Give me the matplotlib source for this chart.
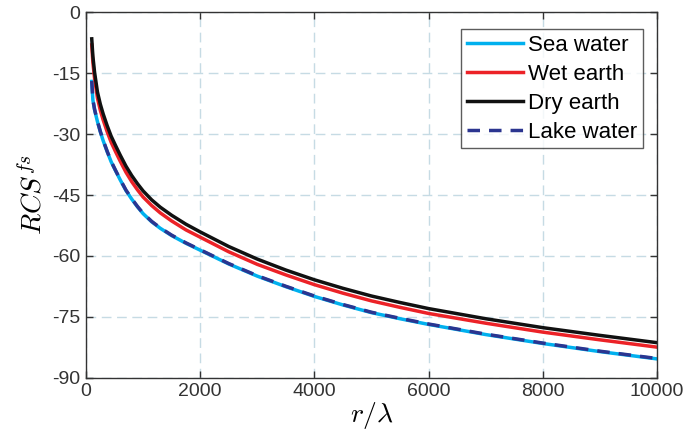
import matplotlib
matplotlib.use('Agg')
import matplotlib.pyplot as plt

plt.rcParams['font.family'] = ['Liberation Sans', 'DejaVu Sans']
plt.rcParams['mathtext.fontset'] = 'cm'
plt.rcParams['axes.unicode_minus'] = False

# r/lambda sample points shared by all four curves
r = [100, 120, 150, 200, 250, 300, 370, 440, 520, 600, 700, 800, 900, 1000,
     1150, 1300, 1500, 1750, 2000, 2500, 3000, 3500, 4000, 4500, 5000, 5500,
     6000, 7000, 8000, 9000, 10000]

# RCS^fs in dB
rcs_dry = [-6.5, -10.8, -14.8, -19.6, -22.6, -25.0, -27.9, -30.5, -32.9, -35.2,
           -37.9, -40.2, -42.2, -44.0, -46.2, -48.0, -50.0, -52.2, -54.1, -57.7,
           -60.8, -63.5, -65.9, -68.0, -69.9, -71.5, -73.0, -75.5, -77.7, -79.6, -81.4]
rcs_wet = [-8.0, -12.3, -16.3, -21.1, -24.1, -26.5, -29.4, -32.0, -34.4, -36.7,
           -39.4, -41.7, -43.7, -45.5, -47.6, -49.4, -51.4, -53.6, -55.4, -59.0,
           -62.1, -64.7, -67.1, -69.2, -71.1, -72.7, -74.2, -76.6, -78.8, -80.7, -82.5]
rcs_sea = [-17.0, -21.6, -24.0, -26.9, -29.4, -31.6, -34.3, -36.8, -39.1, -41.3,
           -43.9, -46.0, -47.9, -49.6, -51.6, -53.2, -55.0, -56.9, -58.6, -62.0,
           -65.0, -67.6, -70.0, -72.1, -74.0, -75.5, -76.9, -79.4, -81.6, -83.6, -85.4]
rcs_lake = [-16.9, -21.5, -23.9, -26.8, -29.3, -31.5, -34.2, -36.7, -39.0, -41.2,
            -43.8, -45.9, -47.8, -49.5, -51.5, -53.1, -54.9, -56.8, -58.5, -61.9,
            -64.9, -67.5, -69.9, -72.0, -73.9, -75.4, -76.8, -79.3, -81.5, -83.5, -85.3]

x_ticks = [0, 2000, 4000, 6000, 8000, 10000]
y_ticks = [0, -15, -30, -45, -60, -75, -90]

fig = plt.figure(figsize=(6.91, 4.38), dpi=100)
ax = fig.add_axes([0.1245, 0.138, 0.8263, 0.8335])

ax.plot(r, rcs_sea, color='#00b0ee', lw=2.5, label='Sea water')
ax.plot(r, rcs_wet, color='#ec2227', lw=2.5, label='Wet earth')
ax.plot(r, rcs_dry, color='#111111', lw=2.5, label='Dry earth')
ax.plot(r, rcs_lake, color='#2b3590', lw=2.5, ls=(0, (3.6, 2.6)), label='Lake water')

ax.set_xlim(0, 10000)
ax.set_ylim(-90, 0)
ax.set_xticks(x_ticks)
ax.set_yticks(y_ticks)
ax.set_xticklabels([str(v) for v in x_ticks])
ax.set_yticklabels([str(v) for v in y_ticks])

ax.grid(True, color='#c6dbe4', ls=(0, (7, 4)), lw=1.0)
ax.set_axisbelow(True)
ax.tick_params(direction='in', length=5, width=1, top=True, right=True,
               labelsize=14, colors='#333333', pad=4)
for sp in ax.spines.values():
    sp.set_color('#333333')
    sp.set_linewidth(1.0)

ax.set_xlabel(r'$r/\lambda$', fontsize=20, labelpad=0)
ax.set_ylabel(r'$RCS^{fs}$', fontsize=20, labelpad=3)

leg = ax.legend(loc='upper right', bbox_to_anchor=(0.9755, 0.9548), fontsize=16,
                frameon=True, fancybox=False, handlelength=2.55, handletextpad=0.23,
                borderpad=0.25, labelspacing=0.36, borderaxespad=0)
leg.get_frame().set_edgecolor('#333333')
leg.get_frame().set_linewidth(1.0)

plt.savefig('out.png', dpi=100)
